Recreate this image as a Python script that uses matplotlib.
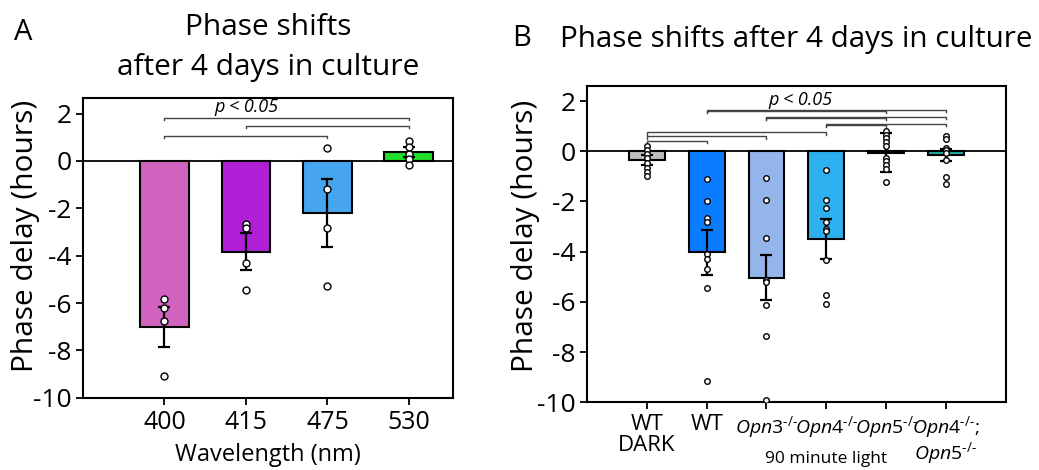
#!/usr/bin/env python3
import matplotlib
matplotlib.use("Agg")
import matplotlib.pyplot as plt

plt.rcParams["font.family"] = ["Open Sans", "DejaVu Sans"]
plt.rcParams["mathtext.fontset"] = "custom"
plt.rcParams["mathtext.rm"] = "Open Sans"
plt.rcParams["mathtext.it"] = "Open Sans:italic"

# Panel A: wavelength series
A_LABELS = ["400", "415", "475", "530"]
A_MEANS = [-7.0, -3.83, -2.2, 0.38]
A_SEM = [0.85, 0.78, 1.43, 0.2]
A_POINTS = [
    [-5.82, -6.23, -6.78, -9.1],
    [-2.65, -2.83, -4.31, -5.43],
    [0.53, -1.18, -2.85, -5.29],
    [0.85, 0.6, 0.29, 0.07, -0.15],
]
A_COLORS = ["#D162C0", "#B01ED6", "#45A5EE", "#22DD2A"]
A_BRACKETS = [(0, 3, 1.82), (1, 3, 1.49), (0, 2, 1.07)]

# Panel B: genotypes
B_LABELS = [
    "WT\nDARK",
    "WT",
    r"$\mathit{Opn3}^{\text{-/-}}$",
    r"$\mathit{Opn4}^{\text{-/-}}$",
    r"$\mathit{Opn5}^{\text{-/-}}$",
    r"$\mathit{Opn4}^{\text{-/-}}\mathit{;}$" + "\n" + r"$\mathit{Opn5}^{\text{-/-}}$",
]
B_MEANS = [-0.33, -4.02, -5.03, -3.51, -0.05, -0.15]
B_SEM = [0.2, 0.9, 0.9, 0.8, 0.78, 0.25]
B_POINTS = [
    [0.2, 0.07, -0.09, -0.26, -0.46, -0.66, -0.82, -1.0],
    [-1.09, -1.97, -2.65, -2.81, -4.11, -4.28, -4.67, -5.44, -9.16],
    [-1.06, -1.96, -3.45, -5.13, -5.21, -6.14, -7.37, -9.91],
    [-0.73, -1.96, -2.25, -2.83, -3.11, -3.18, -4.33, -5.74, -6.08],
    [0.8, 0.66, 0.53, 0.36, 0.2, -0.26, -0.4, -0.56, -0.7, -1.23],
    [0.62, 0.49, 0.14, 0.04, -0.06, -0.33, -1.03, -1.32],
]
B_COLORS = ["#BDBDBD", "#0A7CFF", "#93B5EA", "#2CB0EE", "#222222", "#1AAFA0"]
B_BRACKETS = [
    (0, 1, 0.41), (0, 2, 0.6), (0, 3, 0.76),
    (3, 4, 1.06), (3, 5, 1.1),
    (2, 4, 1.33), (2, 5, 1.37),
    (1, 4, 1.62), (1, 5, 1.66),
]


def draw_panel(ax, means, sem, points, colors, brackets, ylim, xlim, msize):
    xs = list(range(len(means)))
    ax.bar(xs, means, width=0.6, color=colors, edgecolor="black", linewidth=1.5, zorder=2)
    ax.errorbar(xs, means, yerr=sem, fmt="none", ecolor="black", elinewidth=1.6,
                capsize=4, capthick=1.6, zorder=3)
    for x, pts in zip(xs, points):
        ax.plot([x] * len(pts), pts, linestyle="none", marker="o", markersize=msize,
                markerfacecolor="white", markeredgecolor="black", markeredgewidth=1.0, zorder=4)
    ax.axhline(0, color="black", linewidth=1.3, zorder=3)
    for x0, x1, y in brackets:
        ax.plot([x0, x0, x1, x1], [y - 0.1, y, y, y - 0.1], color="#444444", linewidth=1.0, zorder=1)
    ax.set_ylim(*ylim)
    ax.set_xlim(*xlim)
    ax.set_yticks([-10, -8, -6, -4, -2, 0, 2])
    ax.set_yticklabels(["-10", "-8", "-6", "-4", "-2", "0", "2"])
    ax.set_xticks(xs)
    for sp in ax.spines.values():
        sp.set_linewidth(1.5)
    ax.tick_params(axis="both", direction="out", length=5, width=1.3, top=False, right=False)
    ax.tick_params(axis="y", labelsize=19, pad=3)
    ax.set_ylabel("Phase delay (hours)", fontsize=21.5)


def main():
    fig = plt.figure(figsize=(10.39, 4.70), dpi=100)

    ax_a = fig.add_axes([0.0799, 0.1538, 0.356, 0.6377])
    draw_panel(ax_a, A_MEANS, A_SEM, A_POINTS, A_COLORS, A_BRACKETS, (-10, 2.66), (-1.0, 3.54), 5)
    ax_a.yaxis.set_label_coords(-0.116, 0.54)
    ax_a.set_xticklabels(A_LABELS, fontsize=18)
    ax_a.set_xlabel("Wavelength (nm)", fontsize=17, labelpad=6)
    ax_a.text(1.0, 2.29, "p < 0.05", style="italic", fontsize=13, ha="center", va="center")
    fig.text(0.258, 0.942, "Phase shifts", fontsize=21.5, ha="center", va="center")
    fig.text(0.258, 0.857, "after 4 days in culture", fontsize=21.5, ha="center", va="center")
    fig.text(0.022, 0.93, "A", fontsize=21, ha="center", va="center")

    ax_b = fig.add_axes([0.565, 0.144, 0.403, 0.673])
    draw_panel(ax_b, B_MEANS, B_SEM, B_POINTS, B_COLORS, B_BRACKETS, (-10, 2.6), (-1.0, 6.0), 4)
    ax_b.yaxis.set_label_coords(-0.112, 0.526)
    ax_b.set_xticklabels(B_LABELS, linespacing=1.0, va="top")
    for i, lab in enumerate(ax_b.get_xticklabels()):
        lab.set_fontsize(16 if i < 2 else 14)
    ax_b.text(2.57, 2.06, "p < 0.05", style="italic", fontsize=13, ha="center", va="center")
    ax_b.text(3.0, -12.25, "90 minute light", fontsize=12.5, ha="center", va="center")
    fig.text(0.766, 0.915, "Phase shifts after 4 days in culture", fontsize=21.3, ha="center", va="center")
    fig.text(0.502, 0.918, "B", fontsize=21, ha="center", va="center")

    fig.savefig("out.png", dpi=100)


if __name__ == "__main__":
    main()
